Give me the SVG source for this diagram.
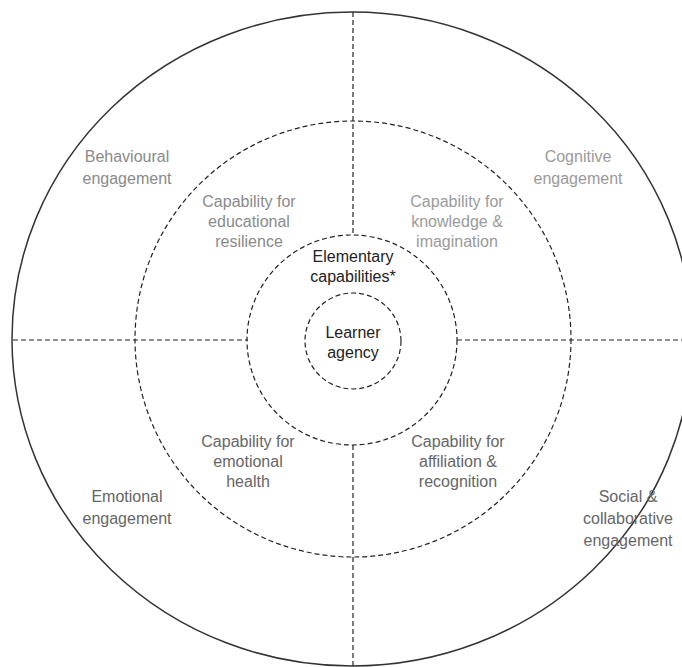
<svg xmlns="http://www.w3.org/2000/svg" width="682" height="667" viewBox="0 0 682 667">
<style>
.dash{fill:none;stroke:#222;stroke-width:1.2;stroke-dasharray:5 3}
.outer{fill:none;stroke:#333;stroke-width:1.5}
text{font-family:"Liberation Sans",Arial,sans-serif;font-size:16px;text-anchor:middle}
.g1{fill:#8a8a8a}
.g2{fill:#9a9a9a}
.g3{fill:#666}
.g4{fill:#222}
</style>
<rect width="682" height="667" fill="#fff"/>
<g id="connectors">
<line class="dash" x1="13" y1="340" x2="248" y2="340"/>
<line class="dash" x1="457" y1="340" x2="682" y2="340"/>
<line class="dash" x1="353" y1="12" x2="353" y2="235"/>
<line class="dash" x1="353" y1="445" x2="353" y2="667"/>
</g>
<g id="outer-ring">
<ellipse class="outer" cx="352" cy="339" rx="340" ry="327"/>
</g>
<g id="middle-ring">
<circle class="dash" cx="353" cy="339" r="218"/>
</g>
<g id="elementary">
<circle class="dash" cx="352" cy="340" r="105"/>
<text class="g4" x="353" y="262">Elementary</text>
<text class="g4" x="353" y="282">capabilities*</text>
</g>
<g id="learner-agency">
<circle class="dash" cx="353" cy="341" r="48"/>
<text class="g4" x="353" y="338">Learner</text>
<text class="g4" x="353" y="358">agency</text>
</g>
<g id="behavioural">
<text class="g1" x="127" y="162">Behavioural</text>
<text class="g1" x="127" y="184">engagement</text>
</g>
<g id="cognitive">
<text class="g2" x="578" y="162">Cognitive</text>
<text class="g2" x="578" y="184">engagement</text>
</g>
<g id="resilience">
<text class="g1" x="249" y="207">Capability for</text>
<text class="g1" x="249" y="227">educational</text>
<text class="g1" x="249" y="247">resilience</text>
</g>
<g id="knowledge">
<text class="g2" x="457" y="207">Capability for</text>
<text class="g2" x="457" y="227">knowledge &amp;</text>
<text class="g2" x="457" y="247">imagination</text>
</g>
<g id="emotional-health">
<text class="g3" x="248" y="447">Capability for</text>
<text class="g3" x="248" y="467">emotional</text>
<text class="g3" x="248" y="487">health</text>
</g>
<g id="affiliation">
<text class="g3" x="458" y="447">Capability for</text>
<text class="g3" x="458" y="467">affiliation &amp;</text>
<text class="g3" x="458" y="487">recognition</text>
</g>
<g id="emotional">
<text class="g3" x="127" y="502">Emotional</text>
<text class="g3" x="127" y="524">engagement</text>
</g>
<g id="social">
<text class="g3" x="628" y="502">Social &amp;</text>
<text class="g3" x="628" y="524">collaborative</text>
<text class="g3" x="628" y="546">engagement</text>
</g>
</svg>
